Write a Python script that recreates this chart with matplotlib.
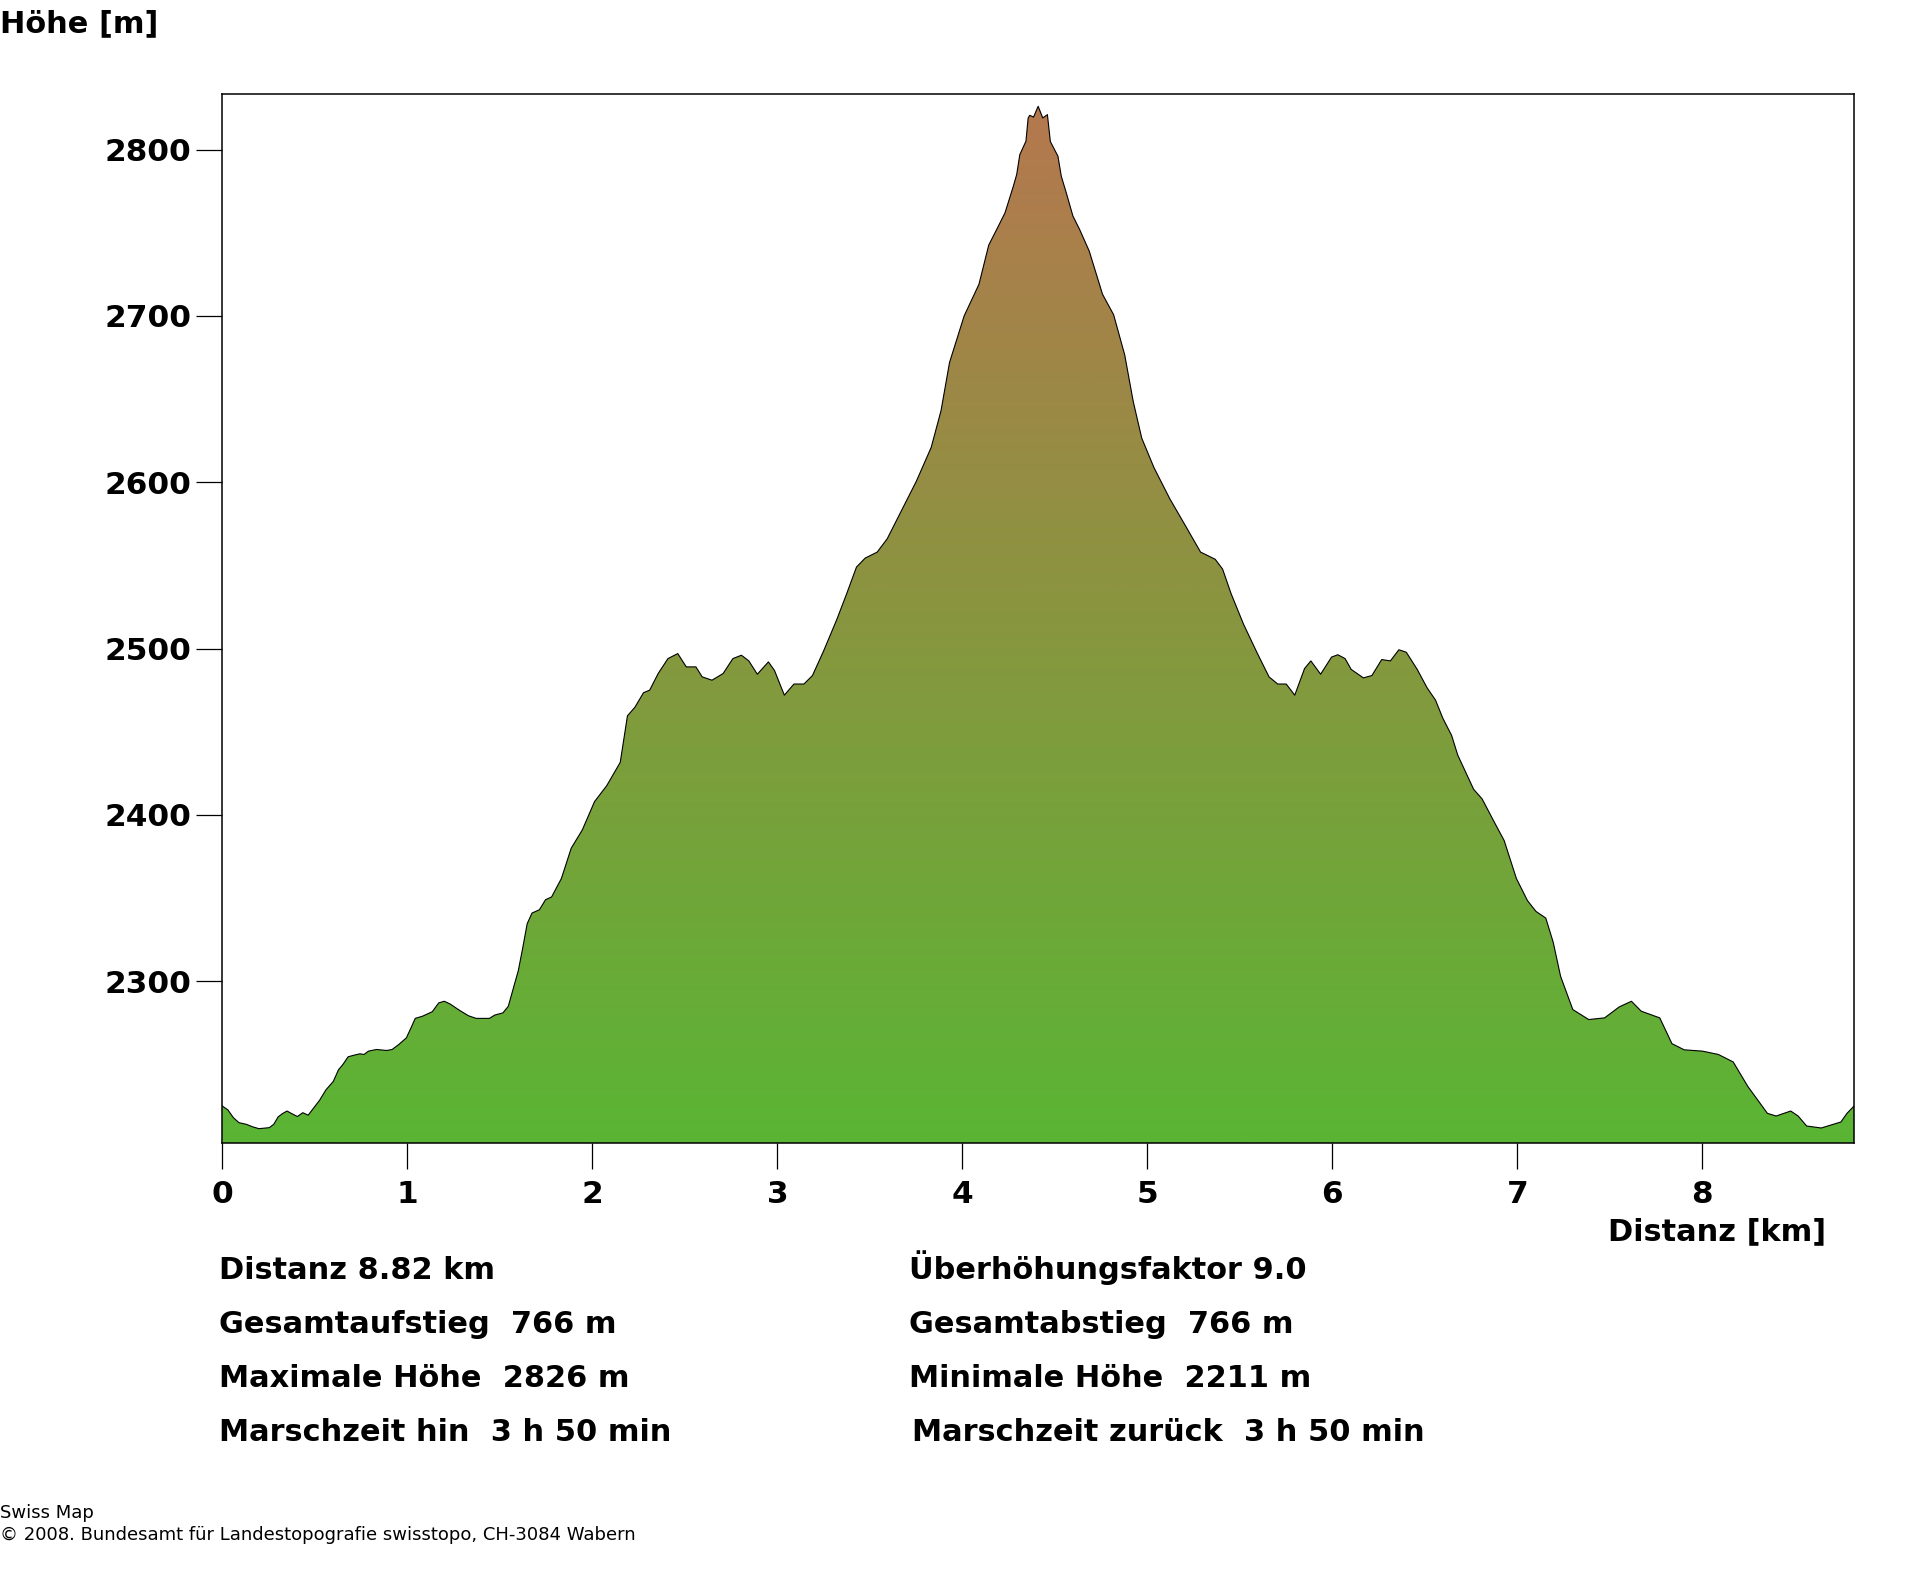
import matplotlib
matplotlib.use('Agg')
import matplotlib.pyplot as plt
from matplotlib.colors import LinearSegmentedColormap
from matplotlib.patches import Polygon
import numpy as np

# profil: distanz [km], hoehe [m]
dist = [0, .03, .06, .09, .13, .164, .198, .254, .278, .302, .326, .35, .374, .406, .435, .464, .495, .526, .56, .6,
        .628, .652, .68, .713, .744, .766, .79, .833, .889, .918, .954, .995, 1.02, 1.043, 1.082, 1.135, 1.17, 1.2,
        1.232, 1.28, 1.33, 1.372, 1.444, 1.473, 1.517, 1.546, 1.582, 1.6, 1.623, 1.648, 1.674, 1.714, 1.747, 1.78,
        1.833, 1.886, 1.946, 2.012, 2.078, 2.151, 2.19, 2.23, 2.277, 2.31, 2.356, 2.409, 2.462, 2.508, 2.56, 2.594,
        2.647, 2.707, 2.76, 2.806, 2.846, 2.892, 2.952, 2.985, 3.038, 3.09, 3.144, 3.19, 3.25, 3.322, 3.375, 3.428,
        3.475, 3.54, 3.594, 3.667, 3.752, 3.832, 3.885, 3.931, 4.01, 4.09, 4.143, 4.186, 4.231, 4.276, 4.294, 4.311,
        4.344, 4.356, 4.365, 4.385, 4.41, 4.435, 4.46, 4.476, 4.517, 4.535, 4.562, 4.598, 4.634, 4.686, 4.758, 4.818,
        4.878, 4.924, 4.97, 5.036, 5.122, 5.208, 5.288, 5.367, 5.407, 5.453, 5.52, 5.592, 5.658, 5.705, 5.751, 5.797,
        5.85, 5.884, 5.937, 5.996, 6.03, 6.069, 6.102, 6.168, 6.214, 6.267, 6.314, 6.36, 6.4, 6.459, 6.512, 6.558,
        6.598, 6.645, 6.678, 6.724, 6.764, 6.81, 6.876, 6.929, 6.995, 7.055, 7.101, 7.154, 7.194, 7.234, 7.3, 7.386,
        7.472, 7.551, 7.617, 7.67, 7.77, 7.836, 7.902, 8.001, 8.087, 8.167, 8.246, 8.352, 8.399, 8.478, 8.518, 8.564,
        8.643, 8.749, 8.782, 8.82]
hoehe = [2225, 2222.7, 2218, 2215, 2214, 2212.5, 2211.4, 2212, 2214, 2218.5, 2220.5, 2222, 2220.5, 2218.7, 2221, 2219.5,
         2224, 2228.5, 2234.7, 2239.8, 2246.8, 2250, 2254.6, 2255.6, 2256.4, 2256, 2258, 2259, 2258.4, 2259, 2262, 2266,
         2272, 2277.7, 2279, 2281.7, 2287, 2288, 2286.3, 2282.7, 2279.3, 2277.7, 2277.7, 2279.7, 2281, 2285, 2299.4,
         2306.4, 2319.5, 2334.6, 2341, 2343, 2349, 2350.7, 2361.8, 2380, 2391, 2408, 2417.6, 2431.6, 2459.6, 2464.7,
         2473.5, 2475, 2485, 2494, 2497, 2489, 2489, 2483, 2481, 2485, 2494, 2496, 2492.6, 2484.6, 2492, 2486.8, 2472,
         2478.7, 2478.7, 2483.8, 2498.5, 2517.6, 2533, 2549, 2554.4, 2558, 2566, 2582, 2600.7, 2621, 2643, 2672, 2700,
         2719, 2742.6, 2752, 2762, 2778, 2785, 2797, 2805, 2819, 2820.6, 2819.5, 2826, 2819, 2821, 2804.8, 2796, 2784,
         2774, 2760, 2752, 2739, 2713, 2700.7, 2676.5, 2648.5, 2626.5, 2608.8, 2590, 2573.5, 2558, 2553.7, 2547.8, 2533,
         2514.7, 2497.8, 2483, 2478.7, 2478.7, 2472, 2488, 2492.6, 2484.6, 2494.9, 2496.3, 2494, 2487.5, 2482.4, 2483.8,
         2493.4, 2492.6, 2499.3, 2497.8, 2487.5, 2476.5, 2469, 2458, 2447.8, 2436, 2425, 2415.4, 2409.6, 2395.6, 2384.6,
         2361.8, 2348.5, 2342, 2338, 2323.5, 2303, 2283, 2277, 2278, 2284.6, 2288, 2282, 2278, 2262.5, 2258.8, 2258, 2256,
         2251.5, 2236.8, 2220.6, 2219, 2222, 2219, 2213, 2211.8, 2215.4, 2220.6, 2225]

x_ticks = [0, 1, 2, 3, 4, 5, 6, 7, 8]
y_ticks = [2300, 2400, 2500, 2600, 2700, 2800]
x_max = 8.82
y_min, y_max = 2202.6, 2833.7

infos_links = ['Distanz 8.82 km', 'Gesamtaufstieg  766 m', 'Maximale Höhe  2826 m', 'Marschzeit hin  3 h 50 min']
infos_rechts = ['Überhöhungsfaktor 9.0', 'Gesamtabstieg  766 m', 'Minimale Höhe  2211 m', 'Marschzeit zurück  3 h 50 min']

W, H = 1920, 1572
plt.rcParams['font.family'] = ['DejaVu Sans']
fig = plt.figure(figsize=(W / 100, H / 100), dpi=100)
ax = fig.add_axes([222.3 / W, 1 - 1143.3 / H, (1854 - 222.3) / W, (1143.3 - 93.5) / H])

# farbverlauf gruen -> braun, auf das profil zugeschnitten
cmap = LinearSegmentedColormap.from_list('profil', ['#5ab534', '#88963f', '#b5784f'])
grad = np.linspace(0, 1, 512).reshape(-1, 1)
img = ax.imshow(grad, cmap=cmap, origin='lower', aspect='auto', extent=[0, x_max, y_min, 2826], zorder=1)
poly = Polygon(list(zip(dist, hoehe)) + [(x_max, y_min), (0, y_min)], closed=True, transform=ax.transData,
               facecolor='none', edgecolor='none')
ax.add_patch(poly)
img.set_clip_path(poly)
ax.plot(dist, hoehe, color='black', linewidth=0.8, zorder=2)

ax.set_xlim(0, x_max)
ax.set_ylim(y_min, y_max)
ax.set_xticks(x_ticks)
ax.set_yticks(y_ticks)
ax.tick_params(length=18.5, width=0.9, labelsize=22.4, pad=4)
ax.tick_params(axis='x', pad=8)
for s in ax.spines.values():
    s.set_linewidth(1.1)
    s.set_zorder(3)
for t in ax.get_xticklabels() + ax.get_yticklabels():
    t.set_fontweight('bold')


def txt(x, y, s, size=21.9, ha='left', weight='bold'):
    fig.text(x / W, 1 - y / H, s, fontsize=size, ha=ha, va='baseline', color='black', fontweight=weight)


txt(0, 32, 'Höhe [m]')
txt(1826, 1240, 'Distanz [km]', ha='right')
zeilen = [1279, 1333, 1387, 1441]
for y, s in zip(zeilen, infos_links):
    txt(219, y, s)
for y, s, x in zip(zeilen, infos_rechts, [909, 909, 909, 911.5]):
    txt(x, y, s)

txt(0, 1518, 'Swiss Map', size=13, weight='normal')
txt(0, 1540, '© 2008. Bundesamt für Landestopografie swisstopo, CH-3084 Wabern', size=13, weight='normal')

fig.savefig('out.png', dpi=100)
